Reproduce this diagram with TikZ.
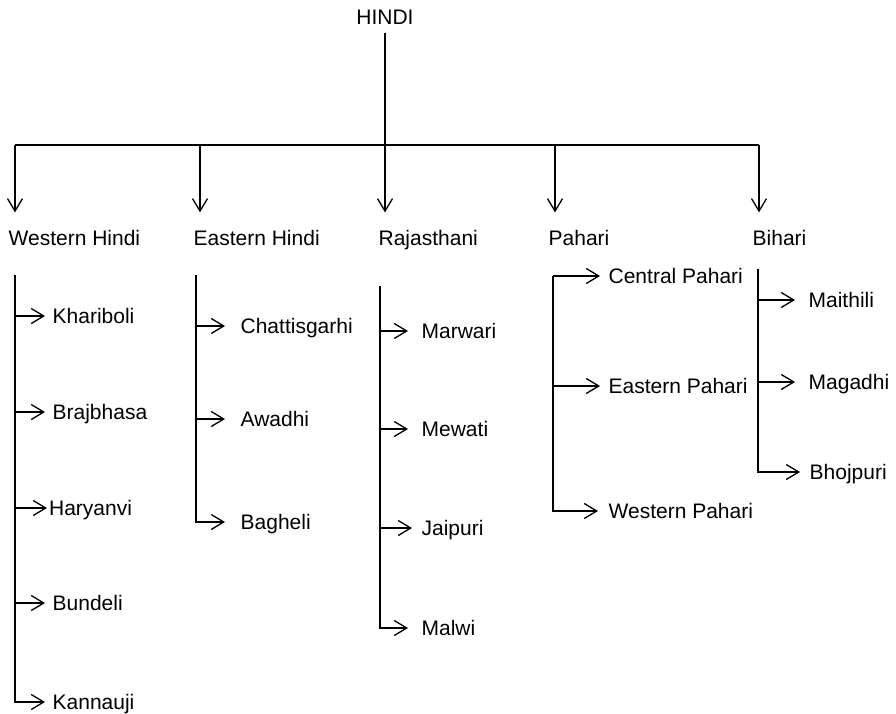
\documentclass[tikz,border=0pt]{standalone}
\usepackage{fontspec}
\setmainfont{Liberation Sans}
\usetikzlibrary{arrows.meta}
\begin{document}
\begin{tikzpicture}[x=1pt,y=-1pt,
  line width=1.3pt,
  arr/.style={-{Straight Barb[length=12.5pt,width=15pt,line width=1.3pt]}},
  lbl/.style={font=\fontsize{21}{21}\selectfont, text height=15pt, text depth=0pt, inner ysep=0pt, anchor=west},
  top/.style={lbl, inner xsep=0pt, inner ysep=17.5pt},
]
\useasboundingbox (0,0) rectangle (896,714);

% root
\node[lbl, anchor=center, inner ysep=7.5pt] (hindi) at (385,17) {HINDI};
\coordinate (hub) at (385,145);
\coordinate (b1) at (15,145);
\coordinate (b2) at (200,145);
\coordinate (b3) at (385,145);
\coordinate (b4) at (555,145);
\coordinate (b5) at (759,145);
\draw (hindi.south) -- (hub);
\draw (b1) -- (b5);

% second level
\node[top] (wh) at (8,238) {Western Hindi};
\node[top] (eh) at (193,238) {Eastern Hindi};
\node[top] (rj) at (378,238) {Rajasthani};
\node[top] (ph) at (548,238) {Pahari};
\node[top] (bh) at (752,238) {Bihari};
\draw[arr] (b1) -- (b1 |- wh.north);
\draw[arr] (b2) -- (b2 |- eh.north);
\draw[arr] (b3) -- (b3 |- rj.north);
\draw[arr] (b4) -- (b4 |- ph.north);
\draw[arr] (b5) -- (b5 |- bh.north);

% Western Hindi
\coordinate (wtop) at (15,275);
\node[lbl, inner xsep=7pt] (kh) at (45,316) {Khariboli};
\node[lbl, inner xsep=7pt] (br) at (45,412) {Brajbhasa};
\node[lbl, inner xsep=1.5pt] (hr) at (47,508) {Haryanvi};
\node[lbl, inner xsep=7pt] (bu) at (45,603) {Bundeli};
\node[lbl, inner xsep=7pt] (kn) at (45,702) {Kannauji};
\draw[arr] (wtop) |- (kn.west);
\draw[arr] (wtop |- kh.west) -- (kh.west);
\draw[arr] (wtop |- br.west) -- (br.west);
\draw[arr] (wtop |- hr.west) -- (hr.west);
\draw[arr] (wtop |- bu.west) -- (bu.west);

% Eastern Hindi
\coordinate (etop) at (196,275);
\node[lbl, inner xsep=15pt] (ch) at (225,326) {Chattisgarhi};
\node[lbl, inner xsep=15pt] (aw) at (225,419) {Awadhi};
\node[lbl, inner xsep=15pt] (bg) at (225,522) {Bagheli};
\draw[arr] (etop) |- (bg.west);
\draw[arr] (etop |- ch.west) -- (ch.west);
\draw[arr] (etop |- aw.west) -- (aw.west);

% Rajasthani
\coordinate (rtop) at (380,286);
\node[lbl, inner xsep=13pt] (mr) at (408,331) {Marwari};
\node[lbl, inner xsep=13pt] (mw) at (408,429) {Mewati};
\node[lbl, inner xsep=9pt] (jp) at (412,528) {Jaipuri};
\node[lbl, inner xsep=13pt] (ml) at (408,628) {Malwi};
\draw[arr] (rtop) |- (ml.west);
\draw[arr] (rtop |- mr.west) -- (mr.west);
\draw[arr] (rtop |- mw.west) -- (mw.west);
\draw[arr] (rtop |- jp.west) -- (jp.west);

% Pahari
\coordinate (ptop) at (553,276);
\node[lbl, inner xsep=8pt] (cp) at (600,276) {Central Pahari};
\node[lbl, inner xsep=8pt] (ep) at (600,386) {Eastern Pahari};
\node[lbl, inner xsep=10pt] (wp) at (598,511) {Western Pahari};
\draw[arr] (ptop) -- (cp.west);
\draw[arr] (ptop) |- (wp.west);
\draw[arr] (ptop |- ep.west) -- (ep.west);

% Bihari
\coordinate (btop) at (758,269);
\node[lbl, inner xsep=13pt] (mt) at (795,300) {Maithili};
\node[lbl, inner xsep=13pt] (mg) at (795,382) {Magadhi};
\node[lbl, inner xsep=9pt] (bj) at (800,472) {Bhojpuri};
\draw[arr] (btop) |- (bj.west);
\draw[arr] (btop |- mt.west) -- (mt.west);
\draw[arr] (btop |- mg.west) -- (mg.west);
\end{tikzpicture}
\end{document}
